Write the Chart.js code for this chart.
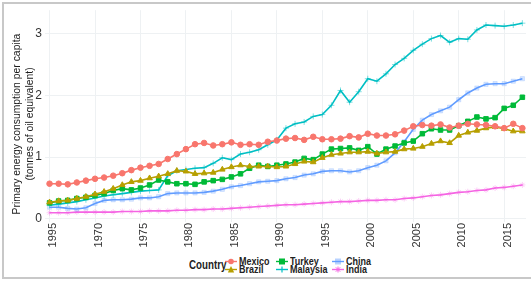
<!DOCTYPE html>
<html>
<head>
<meta charset="utf-8">
<script src="https://cdn.jsdelivr.net/npm/chart.js@4"></script>
<style>
  body { margin: 0; background: #fff; }
  #wrap { position: relative; width: 531px; height: 282px; overflow: hidden; }
  #frame { position: absolute; left: 2px; top: 2px; width: 560px; height: 273px; border: 2px solid #c8c8c8; }
  canvas { position: absolute; left: 0; top: 0; }
  .lg { position: absolute; font-family: 'Liberation Sans', Arial, sans-serif; color: #222; font-weight: bold;
        line-height: 14px; white-space: nowrap; transform: scaleX(0.78); transform-origin: left center; }
  .mk { position: absolute; }
</style>
</head>
<body>
<div id="wrap">
  <div id="frame"></div>
  <canvas id="myChart" width="531" height="250"></canvas>
  <div class="lg" style="left:189px; top:258px; font-size:12.5px;">Country</div>
  <div id="legend"></div>
</div>
<script>
const years = [];
for (let y = 1965; y <= 2017; y++) years.push(y);

const tickYears = [1965, 1970, 1975, 1980, 1985, 1990, 1995, 2000, 2005, 2010, 2015];
const tickLabels = ['1995', '1970', '1975', '1980', '1985', '1990', '1995', '2000', '2005', '2010', '2015'];

const mexico = [0.57, 0.57, 0.56, 0.59, 0.62, 0.65, 0.67, 0.70, 0.74, 0.79, 0.83, 0.86, 0.89,
  0.97, 1.05, 1.13, 1.21, 1.23, 1.19, 1.21, 1.24, 1.20, 1.21,
  1.20, 1.25, 1.27, 1.30, 1.31, 1.28, 1.33, 1.29, 1.29, 1.30,
  1.34, 1.32, 1.38, 1.35, 1.35, 1.37, 1.43, 1.50, 1.52, 1.51,
  1.53, 1.48, 1.51, 1.54, 1.53, 1.52, 1.50, 1.47, 1.54, 1.47];
const brazil = [0.27, 0.29, 0.30, 0.33, 0.36, 0.40, 0.44, 0.49, 0.55, 0.60, 0.62, 0.66, 0.69,
  0.73, 0.78, 0.77, 0.73, 0.74, 0.75, 0.80, 0.84, 0.87, 0.85,
  0.85, 0.85, 0.84, 0.85, 0.89, 0.93, 0.92, 0.99, 1.04, 1.06,
  1.08, 1.08, 1.09, 1.06, 1.08, 1.09, 1.13, 1.14, 1.17, 1.22,
  1.26, 1.23, 1.35, 1.40, 1.43, 1.47, 1.49, 1.46, 1.42, 1.42];
const turkey = [0.26, 0.29, 0.30, 0.33, 0.35, 0.38, 0.41, 0.46, 0.49, 0.47, 0.50, 0.55, 0.63,
  0.60, 0.57, 0.57, 0.56, 0.60, 0.62, 0.64, 0.68, 0.73, 0.82,
  0.87, 0.85, 0.87, 0.89, 0.92, 0.98, 0.96, 1.05, 1.13, 1.14,
  1.15, 1.11, 1.17, 1.05, 1.13, 1.18, 1.23, 1.26, 1.38, 1.46,
  1.44, 1.44, 1.51, 1.58, 1.65, 1.62, 1.64, 1.79, 1.84, 1.97];
const malaysia = [0.22, 0.24, 0.26, 0.28, 0.31, 0.34, 0.37, 0.39, 0.41, 0.43, 0.45, 0.46, 0.47,
  0.70, 0.78, 0.80, 0.82, 0.83, 0.90, 0.99, 0.96, 1.05, 1.08,
  1.12, 1.20, 1.28, 1.47, 1.54, 1.57, 1.66, 1.69, 1.84, 2.08,
  1.89, 2.06, 2.27, 2.23, 2.35, 2.50, 2.60, 2.73, 2.83, 2.92,
  2.97, 2.86, 2.92, 2.91, 3.06, 3.14, 3.13, 3.12, 3.14, 3.17];
const china = [0.19, 0.19, 0.17, 0.16, 0.18, 0.25, 0.30, 0.31, 0.31, 0.32, 0.34, 0.34, 0.36,
  0.41, 0.42, 0.42, 0.42, 0.43, 0.45, 0.48, 0.52, 0.54, 0.57,
  0.60, 0.61, 0.62, 0.65, 0.67, 0.71, 0.73, 0.77, 0.78, 0.78,
  0.76, 0.78, 0.83, 0.87, 0.94, 1.07, 1.25, 1.45, 1.60, 1.69,
  1.75, 1.81, 1.93, 2.04, 2.12, 2.18, 2.19, 2.19, 2.23, 2.27];
const india = [0.10, 0.10, 0.10, 0.11, 0.11, 0.11, 0.11, 0.11, 0.12, 0.12, 0.12, 0.13, 0.13,
  0.13, 0.14, 0.14, 0.15, 0.15, 0.16, 0.16, 0.17, 0.18, 0.19,
  0.20, 0.21, 0.22, 0.23, 0.23, 0.24, 0.25, 0.26, 0.27, 0.28,
  0.28, 0.29, 0.30, 0.30, 0.31, 0.31, 0.33, 0.34, 0.36, 0.38,
  0.39, 0.41, 0.43, 0.44, 0.46, 0.47, 0.50, 0.51, 0.53, 0.55];

const countries = ['Mexico', 'Brazil', 'Turkey', 'Malaysia', 'China', 'India'];
const colorHex = ['#F8766D', '#B79F00', '#00BA38', '#00BFC4', '#619CFF', '#F564E3'];
const series = [mexico, brazil, turkey, malaysia, china, india];
const yTitle = ['Primary energy consumption per capita', '(tonnes of oil equivalent)'];

const styles = [
  { pointStyle: 'circle', pointRadius: 2.8, fill: '#F8766D', pw: 1 },
  { pointStyle: 'triangle', pointRadius: 3.2, fill: '#B79F00', pw: 1 },
  { pointStyle: 'rect', pointRadius: 3.2, fill: '#00BA38', pw: 1 },
  { pointStyle: 'cross', pointRadius: 3, fill: 'rgba(0,191,196,0.5)', pw: 1 },
  { pointStyle: 'rect', pointRadius: 3, fill: 'rgba(97,156,255,0.25)', pw: 0.8 },
  { pointStyle: 'star', pointRadius: 3, fill: 'rgba(245,100,227,0.4)', pw: 0.8 }
];

let datasets = countries.map((c, i) => ({
  label: c,
  data: years.map((y, j) => ({ x: y, y: series[i][j] })),
  borderColor: colorHex[i],
  borderWidth: 1.6,
  pointStyle: styles[i].pointStyle,
  pointRadius: styles[i].pointRadius,
  pointBackgroundColor: styles[i].fill,
  pointBorderColor: i >= 3 ? styles[i].fill : colorHex[i],
  pointBorderWidth: styles[i].pw,
  tension: 0
}));

// axis title and upright year labels drawn by hand, placed with the x scale
const textPlugin = {
  id: 'axisText',
  afterDraw(chart) {
    let c = chart.ctx;
    let xs = chart.scales.x;
    let bottom = chart.chartArea.bottom;
    c.save();
    c.fillStyle = '#1a1a1a';
    c.font = '10.4px "Liberation Sans", Arial, sans-serif';
    c.textAlign = 'center';
    c.textBaseline = 'middle';
    c.translate(17, 124);
    c.rotate(-Math.PI / 2);
    c.fillText(yTitle[0], 0, 0);
    c.fillText(yTitle[1], 0, 13);
    c.restore();

    c.save();
    c.fillStyle = '#333';
    c.font = '11px "Liberation Sans", Arial, sans-serif';
    c.textAlign = 'right';
    c.textBaseline = 'middle';
    tickYears.forEach((yr, i) => {
      c.save();
      c.translate(xs.getPixelForValue(yr) + 3.5, bottom + 1);
      c.rotate(-Math.PI / 2);
      c.fillText(tickLabels[i], 0, 0);
      c.restore();
    });
    c.restore();
  }
};

let ctx = document.getElementById('myChart').getContext('2d');
let myChart = new Chart(ctx, {
  type: 'line',
  data: { datasets: datasets },
  plugins: [textPlugin],
  options: {
    responsive: false,
    animation: false,
    layout: { padding: { top: 5, right: 3 } },
    plugins: { legend: { display: false }, tooltip: { enabled: false } },
    scales: {
      x: {
        type: 'linear',
        min: 1964.5,
        max: 2017.4,
        border: { display: false },
        grid: { color: '#eef1f3', drawTicks: false },
        afterBuildTicks: (s) => { s.ticks = tickYears.map(v => ({ value: v })) },
        afterFit: (s) => { s.height = 28 },
        ticks: { display: false }
      },
      y: {
        min: -0.05,
        max: 3.38,
        border: { display: false },
        grid: { color: '#eef1f3', drawTicks: false },
        afterBuildTicks: (s) => { s.ticks = [0, 1, 2, 3].map(v => ({ value: v })) },
        afterFit: (s) => { s.width = 45 },
        ticks: {
          padding: 3,
          color: '#333',
          font: { family: 'Liberation Sans', size: 12 }
        }
      }
    }
  }
})

// legend, two rows per column like the original
const legendPos = [[231, 261], [231, 269], [282, 261], [282, 269], [338, 261], [338, 269]];
let legendHtml = '';
countries.forEach((c, i) => {
  let shape = '';
  let col = colorHex[i];
  if (i === 0) shape = `<circle cx="6" cy="4.5" r="2.8" fill="${col}"/>`;
  if (i === 1) shape = `<polygon points="6,1 9.2,7.5 2.8,7.5" fill="${col}"/>`;
  if (i === 2) shape = `<rect x="3" y="1.5" width="6" height="6" fill="${col}"/>`;
  if (i === 3) shape = `<path d="M6 1.5V7.5M3 4.5H9" stroke="${col}" stroke-width="1.2"/>`;
  if (i === 4) shape = `<rect x="3" y="1.5" width="6" height="6" fill="${col}" opacity="0.45"/>`;
  if (i === 5) shape = `<path d="M6 1.5V7.5M3 4.5H9M3.8 2.3L8.2 6.7M8.2 2.3L3.8 6.7" stroke="${col}" stroke-width="1"/>`;
  let [cx, cy] = legendPos[i];
  legendHtml += `<svg class="mk" width="12" height="9" style="left:${cx - 6}px; top:${cy - 4.5}px;">` +
    `<line x1="0" y1="4.5" x2="12" y2="4.5" stroke="${col}" stroke-width="1.4"/>${shape}</svg>` +
    `<div class="lg" style="left:${cx + 8}px; top:${cy - 7}px; font-size:11.5px;">${c}</div>`;
});
document.getElementById('legend').innerHTML = legendHtml;
</script>
</body>
</html>
